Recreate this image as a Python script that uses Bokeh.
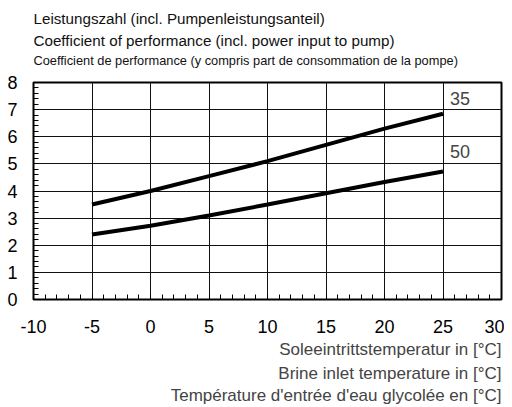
from bokeh.plotting import figure
from bokeh.layouts import column
from bokeh.models import Title, FixedTicker, Range1d, Label, PrintfTickFormatter
from bokeh.embed import file_html
from bokeh.resources import INLINE

temps = [-5, 0, 5, 10, 15, 20, 25]
cop_35 = [3.5, 4.0, 4.55, 5.1, 5.7, 6.3, 6.85]
cop_50 = [2.4, 2.72, 3.1, 3.5, 3.92, 4.33, 4.72]
series_labels = ["35", "50"]
x_ticks = [-10, -5, 0, 5, 10, 15, 20, 25, 30]
y_ticks = [0, 1, 2, 3, 4, 5, 6, 7, 8]
title_lines = ["Leistungszahl (incl. Pumpenleistungsanteil)",
               "Coefficient of performance (incl. power input to pump)",
               "Coefficient de performance (y compris part de consommation de la pompe)"]
x_title_lines = ["Soleeintrittstemperatur in [°C]", "Brine inlet temperature in [°C]",
                 "Température d'entrée d'eau glycolée en [°C]"]

FONT = "Liberation Sans"
TOP_H = 70

# header strip with the three title lines; its frame is aligned with the chart frame
head = figure(width=504, height=TOP_H, output_backend="svg", toolbar_location=None,
              x_range=Range1d(33, 501), y_range=Range1d(TOP_H, 0),
              x_axis_location=None, y_axis_location=None,
              min_border_left=33, min_border_right=3, min_border_top=0, min_border_bottom=0)
head.grid.visible = False
head.outline_line_color = None
for txt, fs, yy in zip(title_lines, ["15.2px", "15.2px", "12.8px"], [18, 40, 60]):
    head.add_layout(Label(x=33, y=yy, text=txt, text_font=FONT, text_font_size=fs,
                          text_baseline="middle", text_align="left", text_color="#111111"))

p = figure(width=504, height=405 - TOP_H, output_backend="svg", toolbar_location=None,
           x_range=Range1d(-10, 30), y_range=Range1d(0, 8),
           min_border_left=33, min_border_right=3, min_border_top=82 - TOP_H,
           min_border_bottom=106)
p.outline_line_color = "black"
p.outline_line_width = 2

for ax in (p.xaxis[0], p.yaxis[0]):
    ax.major_label_text_font = FONT
    ax.major_label_text_font_size = "18px"
    ax.major_label_text_color = "black"
    ax.axis_line_color = "black"
    ax.major_tick_in = 0
    ax.major_tick_out = 0
    ax.minor_tick_in = 5
    ax.minor_tick_out = 0
    ax.minor_tick_line_color = "black"
    ax.formatter = PrintfTickFormatter(format="%d")

p.xaxis.ticker = FixedTicker(ticks=x_ticks, minor_ticks=list(range(-10, 31)))
p.yaxis.ticker = FixedTicker(ticks=y_ticks, minor_ticks=[i / 5 for i in range(0, 41)])
p.xaxis.major_label_standoff = 20
p.yaxis.major_label_standoff = 16

p.xgrid.grid_line_color = "#111111"
p.ygrid.grid_line_color = "#111111"
p.xgrid.grid_line_width = 1
p.ygrid.grid_line_width = 1

p.line(temps, cop_35, line_color="black", line_width=4)
p.line(temps, cop_50, line_color="black", line_width=4)

p.add_layout(Label(x=25.6, y=7.42, text=series_labels[0], text_font=FONT, text_font_size="18px",
                   text_baseline="middle", text_align="left"))
p.add_layout(Label(x=25.6, y=5.46, text=series_labels[1], text_font=FONT, text_font_size="18px",
                   text_baseline="middle", text_align="left"))

for i, txt in enumerate(x_title_lines):
    p.add_layout(Title(text=txt, text_font=FONT, text_font_size="17px", text_font_style="normal",
                       align="right", standoff=5 if i == 0 else 1), "below")

layout = column(head, p, spacing=0)
open("out.html", "w").write(file_html(layout, INLINE))
